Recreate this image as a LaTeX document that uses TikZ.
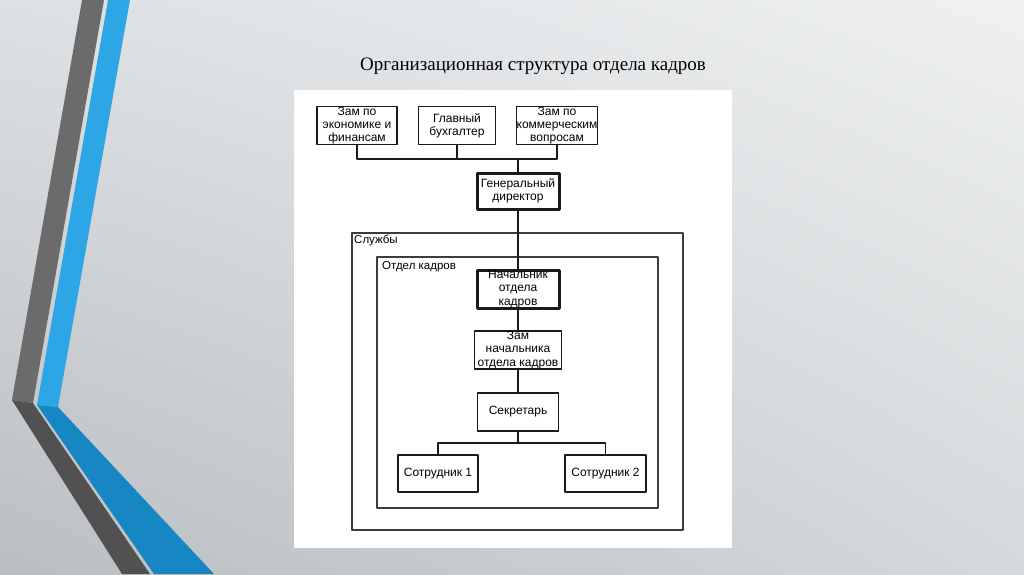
\documentclass[tikz,border=0pt]{standalone}
\usepackage{fontspec}
\usetikzlibrary{shadings}
\setmainfont{Liberation Serif}
\newfontfamily\boxfont{Liberation Sans}
\definecolor{stripegray}{HTML}{6B6B6B}
\definecolor{stripegrayd}{HTML}{515151}
\definecolor{stripeblue}{HTML}{2DA6E6}
\definecolor{stripeblued}{HTML}{1787C4}
\definecolor{inkline}{HTML}{1A1A1A}
\definecolor{bgul}{HTML}{DEE1E4}
\definecolor{bgur}{HTML}{EEF0F1}
\definecolor{bgll}{HTML}{BABDC1}
\definecolor{bglr}{HTML}{D6D9DB}
\tikzset{
	box/.style={draw=inkline, line width=1.6pt, inner sep=0pt, align=center,
		font=\boxfont\fontsize{12}{13.4}\selectfont},
	bossbox/.style={box, line width=3pt},
	link/.style={draw=inkline, line width=1.6pt},
	frame/.style={draw=inkline!85, line width=1.1pt}
}
\begin{document}
\begin{tikzpicture}[x=1pt, y=-1pt, line join=round]
	\useasboundingbox (0,0) rectangle (1024,574);
	% background and stripes
	\shade[upper left=bgul, upper right=bgur, lower left=bgll, lower right=bglr]
		(0,0) rectangle (1024,574);
	\fill[stripegray] (82,0) -- (104,0) -- (33,403) -- (12,400) -- cycle;
	\fill[stripegrayd] (12,400) -- (33,403) -- (150,574) -- (122,574) -- cycle;
	\fill[stripeblue] (108,0) -- (130,0) -- (58,407) -- (37,405) -- cycle;
	\fill[stripeblued] (37,405) -- (58,407) -- (214,574) -- (154,574) -- cycle;
	\fill[white] (294,90) rectangle (732,548);
	\node (title) at (533,66) {\fontsize{19}{22}\selectfont Организационная структура отдела кадров};
	% top level
	\node[box, minimum width=80, minimum height=38] (econ) at (357,125.5) {Зам по\\экономике и\\финансам};
	\node[box, minimum width=77, minimum height=38] (glav) at (457,125.5) {Главный\\бухгалтер};
	\node[box, minimum width=80, minimum height=38] (kom) at (557,125.5) {Зам по\\коммерческим\\вопросам};
	\node[bossbox, minimum width=82, minimum height=36] (gd) at (518,191) {Генеральный\\директор};
	\coordinate (topbus) at (518,159);
	\draw[link] (econ.south) |- (topbus) -| (kom.south);
	\draw[link] (glav.south) -- (glav.south |- topbus);
	\draw[link] (topbus) -- (gd.north);
	% services
	\draw[frame] (352,233) rectangle (683,530);
	\node[anchor=north west, inner sep=0pt, font=\boxfont\fontsize{11.5}{13}\selectfont] (sluzhby) at (354,235) {Службы};
	\draw[frame] (377,257) rectangle (658,508);
	\node[anchor=north west, inner sep=0pt, font=\boxfont\fontsize{11.5}{13}\selectfont] (otdel) at (382,261) {Отдел кадров};
	\node[bossbox, minimum width=82, minimum height=38] (nach) at (518,289) {Начальник\\отдела\\кадров};
	\node[box, minimum width=87, minimum height=36] (zam) at (518,350) {Зам\\начальника\\отдела кадров};
	\node[box, minimum width=81, minimum height=38] (sek) at (518,412) {Секретарь};
	\node[box, minimum width=80, minimum height=37] (sot1) at (438,473.5) {Сотрудник 1};
	\node[box, minimum width=81, minimum height=37] (sot2) at (605.5,473.5) {Сотрудник 2};
	\coordinate (lowbus) at (518,443);
	\draw[link] (gd.south) -- (nach.north);
	\draw[link] (nach.south) -- (zam.north);
	\draw[link] (zam.south) -- (sek.north);
	\draw[link] (sek.south) -- (lowbus);
	\draw[link] (sot1.north) |- (lowbus) -| (sot2.north);
\end{tikzpicture}
\end{document}
